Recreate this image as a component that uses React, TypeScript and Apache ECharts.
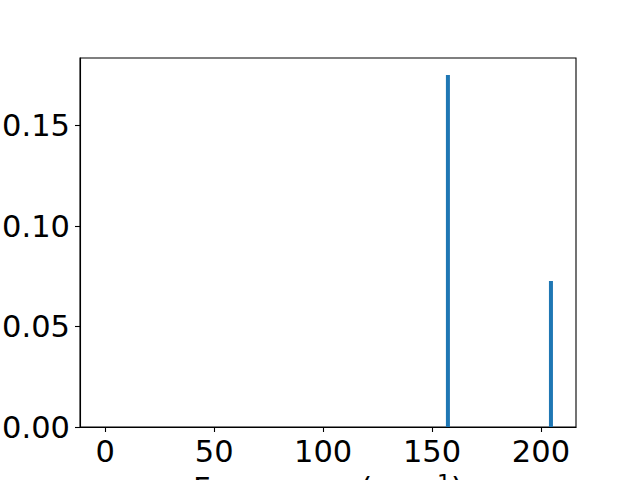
import React, { useEffect, useRef } from "react";
import * as echarts from "echarts";

const frequencies = [157.3, 204.6];
const intensities = [0.1751, 0.0726];
const xTicks = [0, 50, 100, 150, 200];
const yTicks = [0, 0.05, 0.1, 0.15];

export default function App() {
  const ref = useRef<HTMLDivElement>(null);
  useEffect(() => {
    document.body.style.margin = "0";
    const chart = echarts.init(ref.current!, null, { renderer: "svg" });
    const font = "DejaVu Sans";
    chart.setOption({
      animation: false,
      backgroundColor: "#ffffff",
      grid: {
        left: 80,
        right: 64,
        top: 58,
        bottom: 53,
        containLabel: false,
        outerBoundsMode: "none",
        show: true,
        borderColor: "#000",
        borderWidth: 1.1,
        backgroundColor: "transparent",
      },
      xAxis: {
        type: "value",
        min: -11.6,
        max: 216.1,
        splitLine: { show: false },
        axisLine: { show: true, onZero: false, lineStyle: { color: "#000", width: 1.1 } },
        axisTick: {
          show: true,
          inside: false,
          length: 5,
          lineStyle: { color: "#000", width: 1.1 },
          customValues: xTicks,
        },
        axisLabel: {
          fontFamily: font,
          fontSize: 30.5,
          color: "#000",
          margin: 9,
          customValues: xTicks,
          formatter: (v: number) => String(v),
        },
        name: "Frequency (cm{sup|−1})",
        nameLocation: "middle",
        nameGap: 37,
        nameTextStyle: {
          fontFamily: font,
          fontSize: 30.5,
          color: "#000",
          rich: {
            sup: {
              fontFamily: font,
              fontSize: 22,
              color: "#000",
              verticalAlign: "top",
              padding: [0, 0, 12, 0],
            },
          },
        },
      },
      yAxis: {
        type: "value",
        min: 0,
        max: 0.1836,
        splitLine: { show: false },
        axisLine: { show: true, onZero: false, lineStyle: { color: "#000", width: 1.1 } },
        axisTick: {
          show: true,
          inside: false,
          length: 5,
          lineStyle: { color: "#000", width: 1.1 },
          customValues: yTicks,
        },
        axisLabel: {
          fontFamily: font,
          fontSize: 30.5,
          color: "#000",
          margin: 10,
          customValues: yTicks,
          formatter: (v: number) => v.toFixed(2),
        },
      },
      series: [
        {
          type: "bar",
          data: frequencies.map((f, i) => [f, intensities[i]]),
          barWidth: 4,
          itemStyle: { color: "#1f77b4" },
        },
      ],
    });
    return () => chart.dispose();
  }, []);
  return (
    <div
      ref={ref}
      style={{ position: "absolute", left: 0, top: 0, width: 640, height: 480 }}
    />
  );
}
